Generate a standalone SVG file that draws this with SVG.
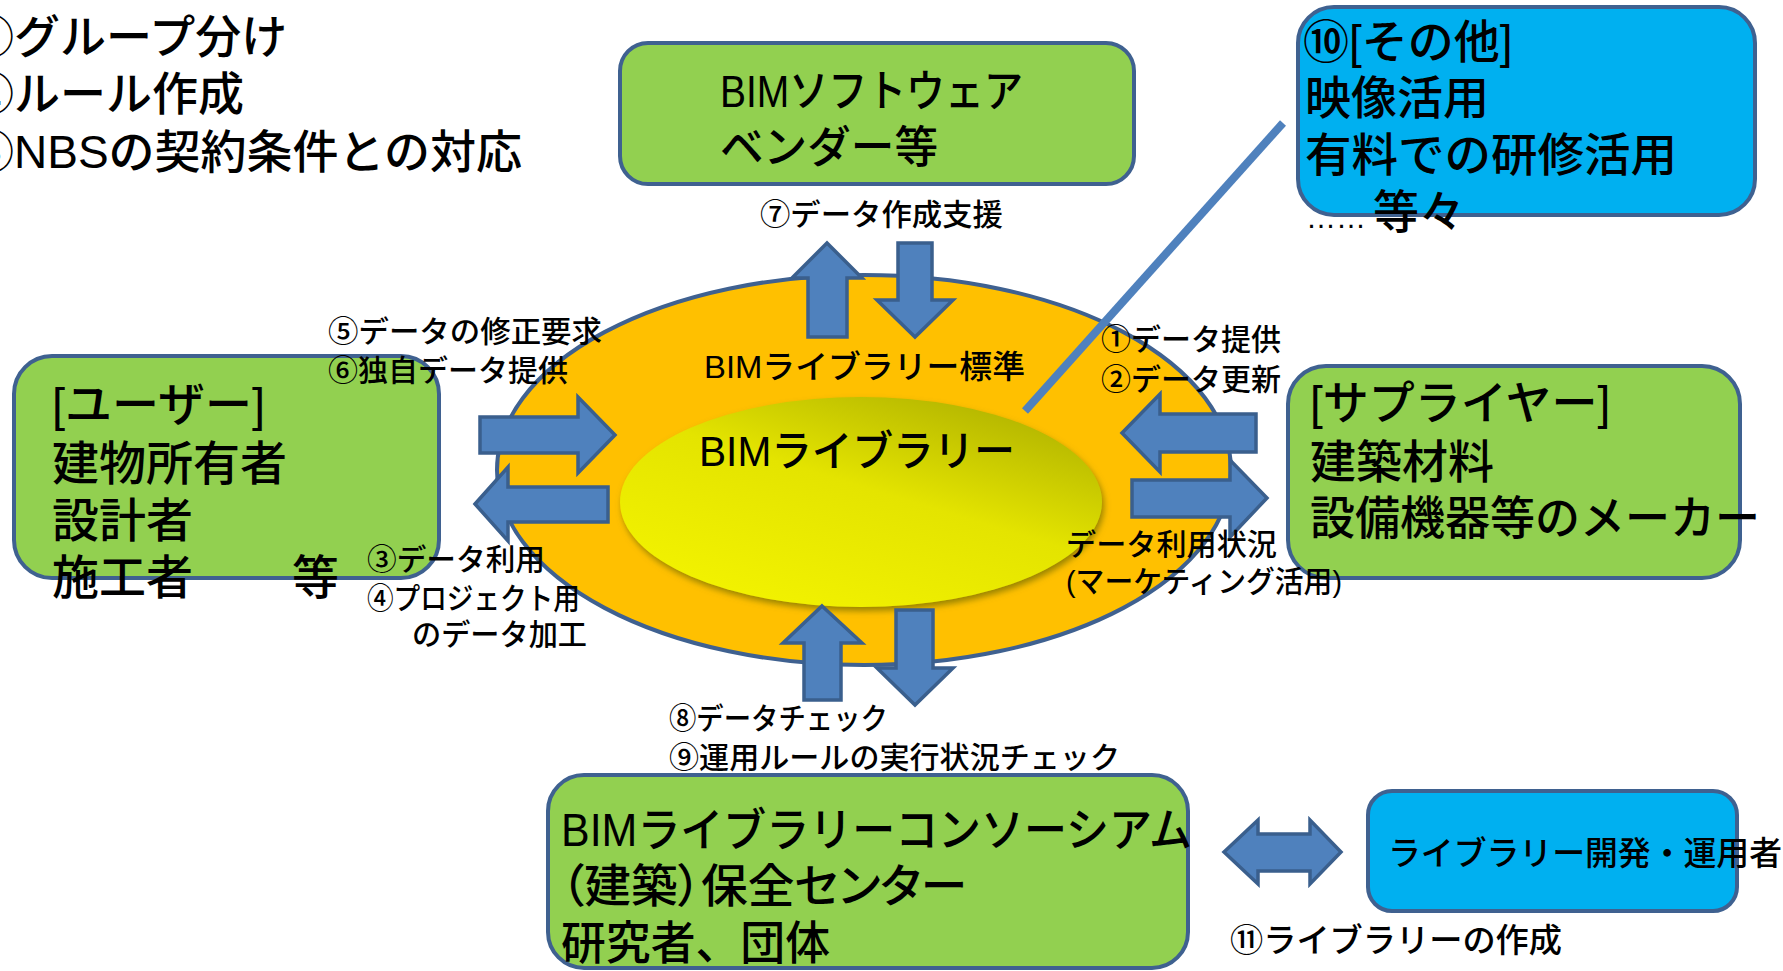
<svg xmlns="http://www.w3.org/2000/svg" width="1783" height="971" viewBox="0 0 1783 971">
<defs>
<style>
text{font-family:'Liberation Sans','Noto Sans CJK JP',sans-serif;fill:#000;font-weight:500}
.big{font-size:46px}
.mid{font-size:33px}
.lab{font-size:30px}
.box{stroke:#3F6190;stroke-width:4}
.g{fill:#92D050}
.b{fill:#00B0F0}
.arr{fill:#4F81BD;stroke:#3A5F8D;stroke-width:3.5;stroke-linejoin:miter}
</style>
<linearGradient id="yel" x1="0.15" y1="1" x2="0.85" y2="0">
<stop offset="0" stop-color="#F4F400"/>
<stop offset="0.55" stop-color="#E4E400"/>
<stop offset="1" stop-color="#ADAF00"/>
</linearGradient>
<filter id="sh" x="-10%" y="-15%" width="125%" height="140%">
<feGaussianBlur in="SourceAlpha" stdDeviation="3"/>
<feOffset dx="2" dy="4" result="o"/>
<feFlood flood-color="#6E6A00" flood-opacity="0.7"/>
<feComposite in2="o" operator="in"/>
<feMerge><feMergeNode/><feMergeNode in="SourceGraphic"/></feMerge>
</filter>
</defs>
<rect width="1783" height="971" fill="#FFFFFF"/>

<g id="notes">
<text class="big" x="-32" y="53">①グループ分け</text>
<text class="big" x="-32" y="110">②ルール作成</text>
<text class="big" x="-32" y="168">③NBSの契約条件との対応</text>
</g>

<g id="library">
<ellipse cx="864" cy="470" rx="367" ry="195" fill="#FFC000" stroke="#3F6190" stroke-width="4"/>
<ellipse cx="861" cy="502" rx="241" ry="105" fill="url(#yel)" filter="url(#sh)"/>
<text x="704" y="378" style="font-size:32px" textLength="321" lengthAdjust="spacingAndGlyphs">BIMライブラリー標準</text>
<text x="699" y="466" style="font-size:42px" textLength="316" lengthAdjust="spacingAndGlyphs">BIMライブラリー</text>
</g>

<g id="vendor">
<rect class="box g" x="620" y="43" width="514" height="141" rx="28"/>
<text class="big" x="720" y="107" style="font-size:44px" textLength="303" lengthAdjust="spacingAndGlyphs">BIMソフトウェア</text>
<text class="big" x="720" y="163" style="font-size:44px" textLength="218" lengthAdjust="spacingAndGlyphs">ベンダー等</text>
</g>

<g id="other">
<rect class="box b" x="1298" y="7" width="457" height="208" rx="36"/>
<text class="big" x="1303" y="58">⑩[その他]</text>
<text class="big" x="1305" y="114">映像活用</text>
<text class="big" x="1305" y="171" textLength="372" lengthAdjust="spacingAndGlyphs">有料での研修活用</text>
<text class="big" x="1306" y="228"><tspan style="font-size:30px">……</tspan><tspan x="1373">等々</tspan></text>
</g>

<g id="user">
<rect class="box g" x="14" y="356" width="425" height="222" rx="38"/>
<text class="big" x="52" y="421" style="font-size:47px">[ユーザー]</text>
<text class="big" x="52" y="480" style="font-size:47px">建物所有者</text>
<text class="big" x="52" y="537" style="font-size:47px">設計者</text>
<text class="big" x="52" y="594" style="font-size:47px">施工者<tspan x="292">等</tspan></text>
</g>

<g id="supplier">
<rect class="box g" x="1288" y="366" width="452" height="212" rx="38"/>
<text class="big" x="1310" y="419">[サプライヤー]</text>
<text class="big" x="1310" y="478">建築材料</text>
<text class="big" x="1310" y="534" textLength="450" lengthAdjust="spacingAndGlyphs">設備機器等のメーカー</text>
</g>

<g id="consortium">
<rect class="box g" x="548" y="775" width="640" height="193" rx="36"/>
<text class="big" x="561" y="846" textLength="631" lengthAdjust="spacingAndGlyphs">BIMライブラリーコンソーシアム</text>
<text class="big" x="561" y="902" style="font-feature-settings:'palt'" textLength="406" lengthAdjust="spacingAndGlyphs">（建築）保全センター</text>
<text class="big" x="561" y="959" textLength="269" lengthAdjust="spacingAndGlyphs">研究者、団体</text>
</g>

<g id="developer">
<rect class="box b" x="1368" y="791" width="369" height="120" rx="24"/>
<text class="mid" x="1388" y="865" textLength="394" lengthAdjust="spacingAndGlyphs">ライブラリー開発・運用者</text>
</g>

<g id="connectors">
<line x1="1283" y1="123" x2="1025" y2="411" stroke="#4F81BD" stroke-width="8"/>
<polygon class="arr" points="827,243 862,278 847,278 847,337 808,337 808,278 792,278"/>
<polygon class="arr" points="898,243 932,243 932,300 953,300 915,337 877,300 898,300"/>
<polygon class="arr" points="480,417 578,417 578,397 615,435 578,473 578,453 480,453"/>
<polygon class="arr" points="475,504 508,467 508,487 608,487 608,522 508,522 508,541"/>
<polygon class="arr" points="1122,433 1160,394 1160,414 1256,414 1256,452 1160,452 1160,472"/>
<polygon class="arr" points="1132,480 1230,480 1230,460 1267,498 1230,537 1230,517 1132,517"/>
<polygon class="arr" points="822,606 862,643 841,643 841,700 804,700 804,643 783,643"/>
<polygon class="arr" points="896,610 933,610 933,668 953,668 915,705 877,668 896,668"/>
<polygon class="arr" points="1224,852 1258,820 1258,834 1310,834 1310,820 1341,852 1310,884 1310,871 1258,871 1258,884"/>
</g>

<g id="labels">
<text class="lab" x="760" y="225" textLength="243" lengthAdjust="spacingAndGlyphs">⑦データ作成支援</text>
<text class="lab" x="328" y="342" textLength="274" lengthAdjust="spacingAndGlyphs">⑤データの修正要求</text>
<text class="lab" x="328" y="381" textLength="240" lengthAdjust="spacingAndGlyphs">⑥独自データ提供</text>
<text class="lab" x="1101" y="350" textLength="180" lengthAdjust="spacingAndGlyphs">①データ提供</text>
<text class="lab" x="1101" y="390" textLength="180" lengthAdjust="spacingAndGlyphs">②データ更新</text>
<text class="lab" x="367" y="570" textLength="178" lengthAdjust="spacingAndGlyphs">③データ利用</text>
<text class="lab" x="367" y="609" textLength="213" lengthAdjust="spacingAndGlyphs">④プロジェクト用</text>
<text class="lab" x="412" y="645" textLength="175" lengthAdjust="spacingAndGlyphs">のデータ加工</text>
<text class="lab" x="1066" y="555" textLength="211" lengthAdjust="spacingAndGlyphs">データ利用状況</text>
<text class="lab" x="1066" y="592" textLength="276" lengthAdjust="spacingAndGlyphs">(マーケティング活用)</text>
<text class="lab" x="669" y="729" textLength="219" lengthAdjust="spacingAndGlyphs">⑧データチェック</text>
<text class="lab" x="669" y="768" textLength="451" lengthAdjust="spacingAndGlyphs">⑨運用ルールの実行状況チェック</text>
<text class="mid" x="1230" y="952" textLength="332" lengthAdjust="spacingAndGlyphs">⑪ライブラリーの作成</text>
</g>
</svg>
